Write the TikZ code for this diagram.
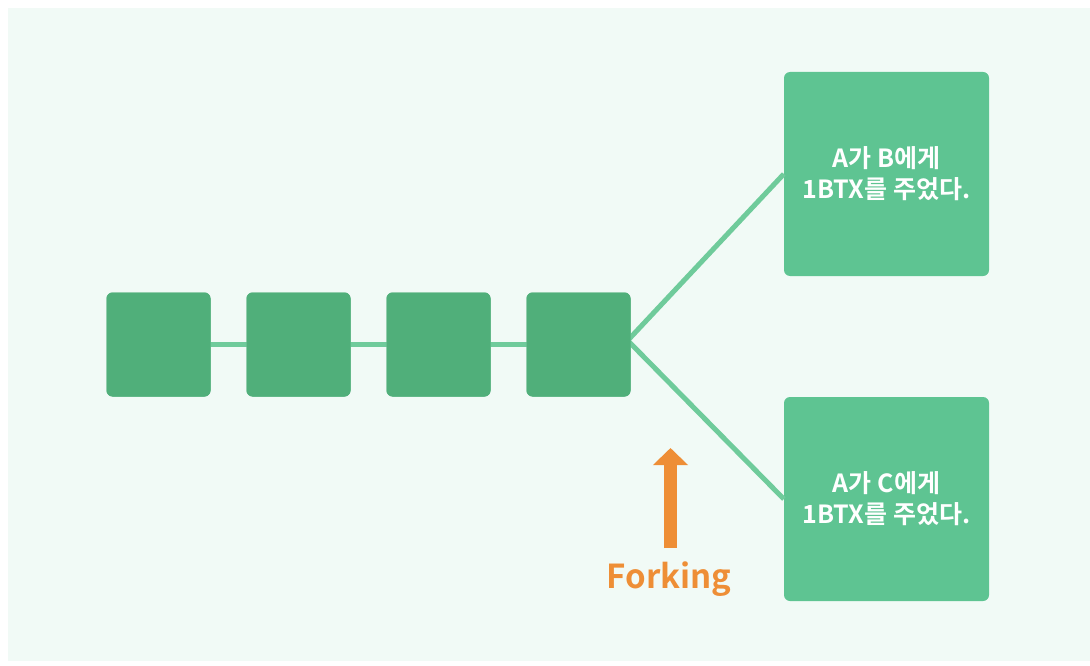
\documentclass[tikz,border=0pt]{standalone}
\usepackage{fontspec}
\usepackage{xcolor}
\setmainfont{Noto Sans CJK KR}[BoldFont={Noto Sans CJK KR Bold}]
\usetikzlibrary{positioning, calc, arrows.meta}

\definecolor{cBg}{HTML}{F1FAF6}
\definecolor{cBlock}{HTML}{50AF7A}
\definecolor{cFork}{HTML}{5EC492}
\definecolor{cLink}{HTML}{6FCB9B}
\definecolor{cOrange}{HTML}{EE8E36}

\begin{document}
\begin{tikzpicture}[
  x=1pt, y=-1pt,
  font=\bfseries,
  block/.style={fill=cBlock, rounded corners=6pt,
    minimum width=104pt, minimum height=104pt, inner sep=0pt},
  forkbox/.style={fill=cFork, rounded corners=6pt,
    minimum width=205pt, minimum height=204pt, inner sep=0pt,
    text=white, align=center, font=\bfseries\fontsize{25}{31}\selectfont},
  link/.style={draw=cLink, line width=5pt},
]
% ============================================================================
% page and background
% ============================================================================
\useasboundingbox (0,0) rectangle (1090,666);
\fill[cBg] (8,8) rectangle (1090,661);

% ============================================================================
% chain of blocks
% ============================================================================
\pgfmathsetmacro{\chainY}{344.5}
\foreach \i in {1,...,4} {
  \pgfmathsetmacro{\bx}{158.5 + (\i-1)*140}
  \node[block] (blk\i) at (\bx,\chainY) {};
}

% fork targets
\node[forkbox] (txB) at (886.5,174) {A가 B에게\\1BTX를 주었다.};
\node[forkbox] (txC) at (886.5,499) {A가 C에게\\1BTX를 주었다.};

% links
\draw[link] (blk1.center) -- (blk2.center);
\draw[link] (blk2.center) -- (blk3.center);
\draw[link] (blk3.center) -- (blk4.center);
\draw[link] ($(blk4.east)+(-3,-4)$) -- (txB.west);
\draw[link] ($(blk4.east)+(-3,-4)$) -- (txC.west);

% redraw blocks on top of links
\foreach \i in {1,...,4} {
  \node[block] at (blk\i) {};
}

% ============================================================================
% forking marker
% ============================================================================
\coordinate (arrTail) at (670.5,548);
\coordinate (arrTip) at (670.5,448);
\draw[cOrange, line width=13pt,
  -{Triangle[length=17pt, width=34pt]}] (arrTail) -- (arrTip);
\node[text=cOrange, font=\bfseries\fontsize{33}{33}\selectfont,
  anchor=base] (fork) at (669,588) {Forking};

\end{tikzpicture}
\end{document}
